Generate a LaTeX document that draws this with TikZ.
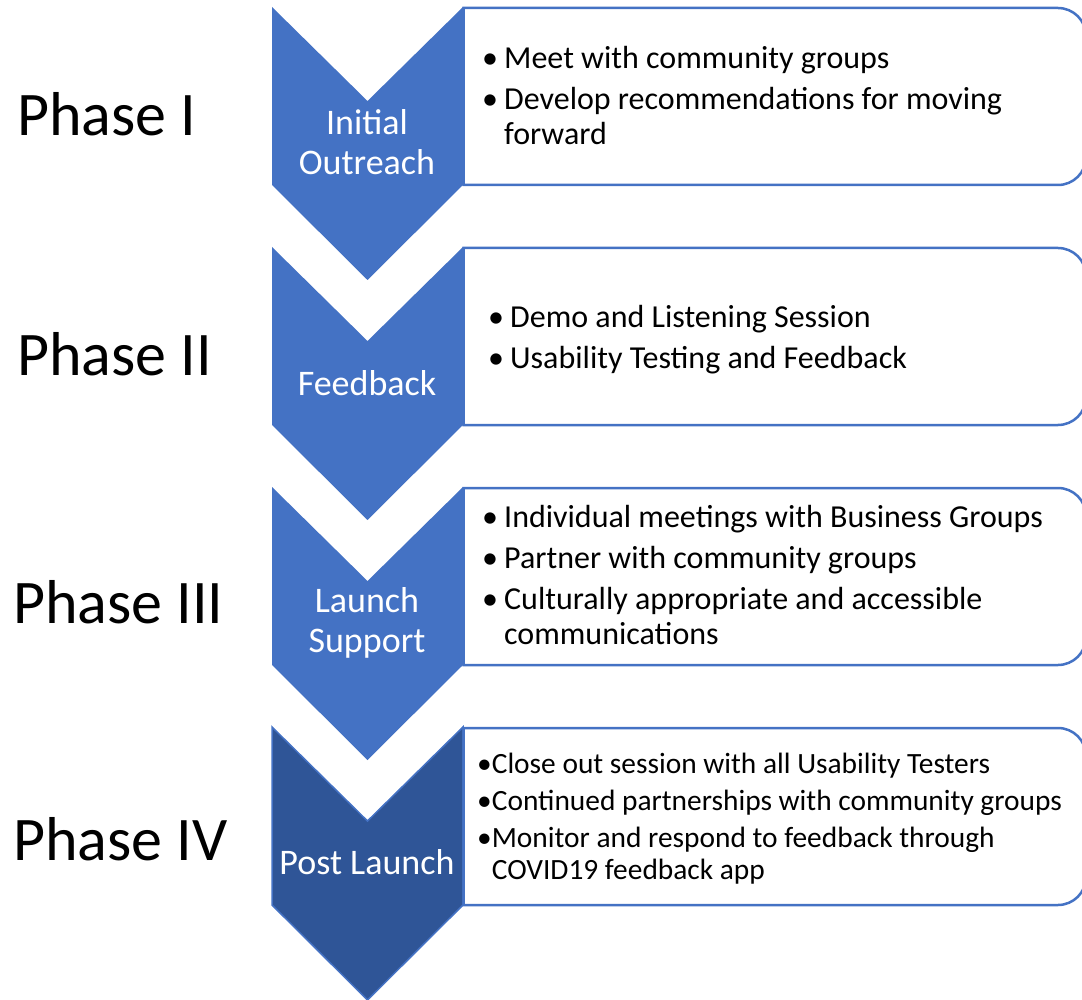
\documentclass[tikz,border=0pt]{standalone}
\usepackage{fontspec}
\setmainfont{Carlito}
\definecolor{chev}{HTML}{4472C4}
\definecolor{chevdark}{HTML}{2F5597}
\newcommand\bul{\makebox[22pt][l]{•}}
\newcommand\hang{\hspace*{22pt}}
\begin{document}
\begin{tikzpicture}[x=1pt,y=-1pt,
  chevron/.style={fill=chev},
  lastchevron/.style={fill=chevdark, draw=chev, line width=1.5pt},
  infobox/.style={draw=chev, line width=2.5pt, fill=white},
  phaselabel/.style={anchor=west, inner sep=0pt, font=\fontsize{62}{62}\selectfont},
  chevlabel/.style={text=white, align=center, inner sep=0pt, font=\fontsize{36}{40}\selectfont},
  bullets/.style={anchor=west, align=left, inner sep=0pt, font=\fontsize{32}{35}\selectfont},
  smallbullets/.style={bullets, font=\fontsize{29.4}{32}\selectfont}]
\useasboundingbox (0,0) rectangle (1082,1000);

% chevrons
\foreach \y/\sty in {7/chevron,247/chevron,487/chevron,727/lastchevron}
  \path[\sty] (272,\y) -- (367.5,\y+94) -- (463,\y) -- (463,\y+178)
     -- (367.5,\y+273) -- (272,\y+178) -- cycle;

% detail boxes, rounded on the right side only
\foreach \y in {8,248,488,728}
  \draw[infobox] (700,\y) [rounded corners=28pt] -- (1086,\y) -- (1086,\y+177) -- (700,\y+177)
     [sharp corners] -- (463.5,\y+177) -- (463.5,\y) -- cycle;

% phase names
\node[phaselabel] (p1) at (17,114) {Phase I};
\node[phaselabel] (p2) at (17,354) {Phase II};
\node[phaselabel] (p3) at (13,602) {Phase III};
\node[phaselabel] (p4) at (13,839) {Phase IV};

% chevron captions
\node[chevlabel] (c1) at (367,142) {Initial\\Outreach};
\node[chevlabel] (c2) at (367,383) {Feedback};
\node[chevlabel] (c3) at (367,623) {Launch\\Support};
\node[chevlabel] (c4) at (367,862) {Post Launch};

% activities
\node[bullets] (b1) at (482,96) {\bul Meet with community groups\\[6pt]
  \bul Develop recommendations for moving\\ \hang forward};
\node[bullets] (b2) at (488,340) {\bul Demo and Listening Session\\[6pt]
  \bul Usability Testing and Feedback};
\node[bullets] (b3) at (482,575) {\bul Individual meetings with Business Groups\\[6pt]
  \bul Partner with community groups\\[6pt]
  \bul Culturally appropriate and accessible\\ \hang communications};
\node[smallbullets] (b4) at (477,819) {•Close out session with all Usability Testers\\[5pt]
  •Continued partnerships with community groups\\[5pt]
  •Monitor and respond to feedback through\\ \phantom{•}COVID19 feedback app};
\end{tikzpicture}
\end{document}
